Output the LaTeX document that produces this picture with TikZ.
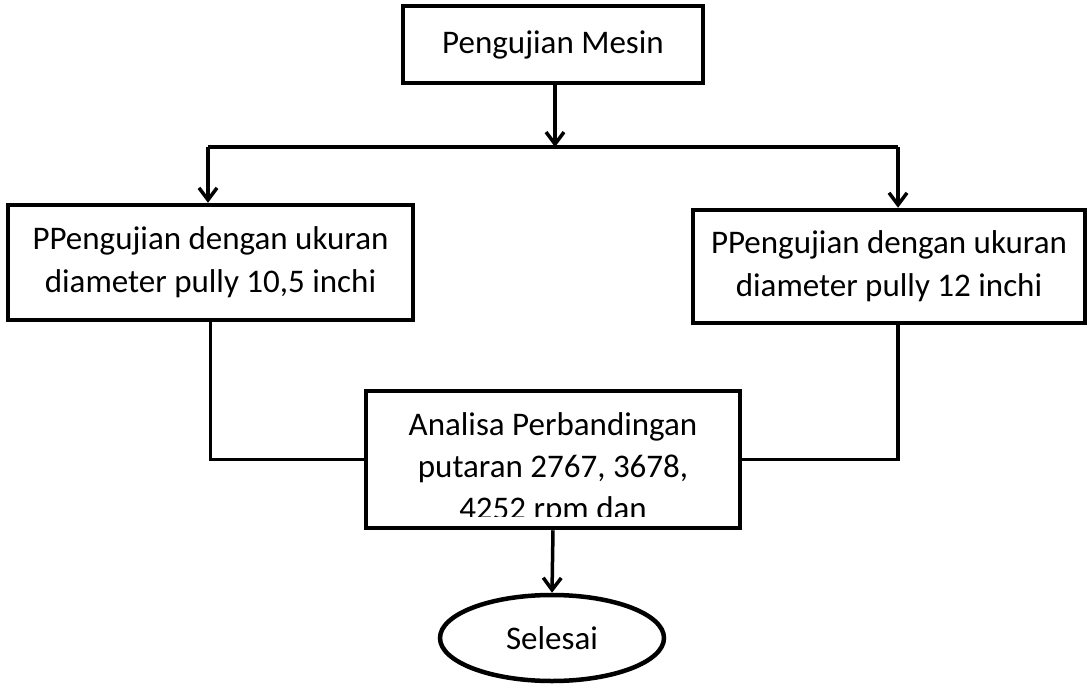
\documentclass[tikz,border=0pt]{standalone}
\usepackage{fontspec}
\setmainfont{Carlito}
\usetikzlibrary{arrows.meta,shapes.geometric}
\begin{document}
\begin{tikzpicture}[x=1pt,y=-1pt,
  boxstyle/.style={draw=black,line width=4.5pt,rectangle,inner sep=0pt,align=center,
    font=\fontsize{33}{43}\selectfont},
  conn/.style={draw=black,line width=3.5pt},
  arr/.style={conn,-{Straight Barb[length=12pt,width=18pt,line width=3.5pt]}},
  txt/.style={inner sep=0pt,align=center,font=\fontsize{33}{42}\selectfont}]
\useasboundingbox (0,0) rectangle (1087,683);
\fill[white] (0,0) rectangle (1087,683);
% boxes
\node[boxstyle,minimum width=300pt,minimum height=77pt] (top) at (553,44.5) {Pengujian Mesin};
\node[boxstyle,minimum width=405pt,minimum height=115pt] (left) at (210.5,262.5)
  {PPengujian dengan ukuran\\diameter pully 10,5 inchi};
\node[boxstyle,minimum width=392pt,minimum height=113pt] (right) at (889,266.5)
  {PPengujian dengan ukuran\\diameter pully 12 inchi};
\node[boxstyle,minimum width=374pt,minimum height=137pt] (mid) at (553,459.5) {};
\begin{scope}
  \clip (368,393) rectangle (738,516);
  \node[txt,anchor=north] (midtext) at (553,412) {Analisa Perbandingan\\putaran 2767, 3678,\\4252 rpm dan};
\end{scope}
\node[draw=black,line width=4.5pt,ellipse,minimum width=224pt,minimum height=86pt,inner sep=0pt,
  font=\fontsize{33}{40}\selectfont] (end) at (552,638) {Selesai};
% junction coordinates
\coordinate (jc) at (555,147);
\coordinate (jl) at (208,147);
\coordinate (jr) at (898,147);
% connectors
\draw[arr] (top.south -| jc) -- (jc);
\draw[conn] (jl) -- (jr);
\draw[arr] (jl) -- (jl |- left.north);
\draw[arr] (jr) -- (jr |- right.north);
\draw[conn] (left.south) |- (mid.west);
\draw[conn] (right.south -| jr) |- (mid.east);
\draw[arr] (mid.south) -- (end.north);
\end{tikzpicture}
\end{document}
